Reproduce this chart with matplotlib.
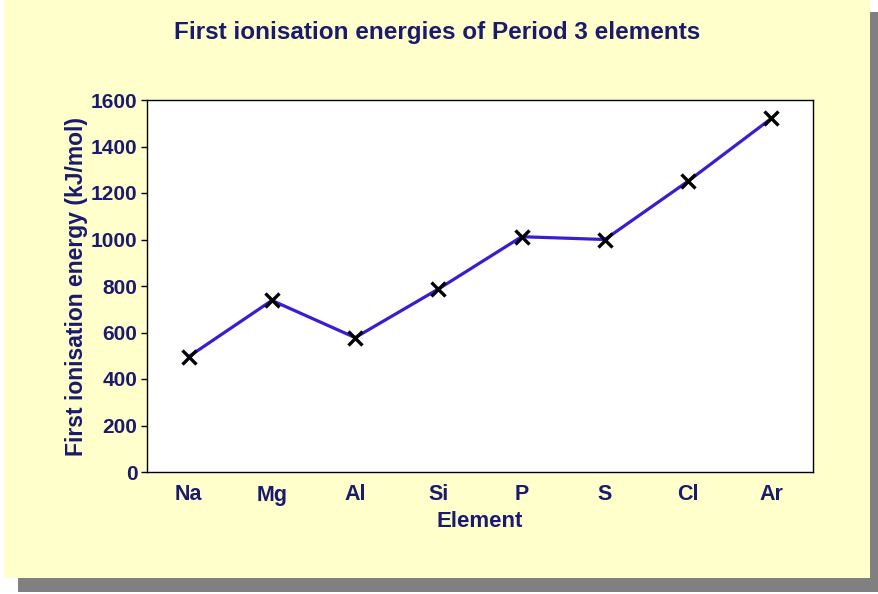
import numpy as np
import matplotlib.pyplot as plt
from matplotlib.patches import Rectangle

# Dados: primeira energia de ionização dos elementos do período 3
elementos = ['Na', 'Mg', 'Al', 'Si', 'P', 'S', 'Cl', 'Ar']
energias = [496, 738, 578, 787, 1012, 1000, 1251, 1521]
ticks_y = [0, 200, 400, 600, 800, 1000, 1200, 1400, 1600]

azul_texto = '#1a1a6e'
amarelo = '#ffffcc'

plt.rcParams['font.family'] = ['Liberation Sans', 'DejaVu Sans']
plt.rcParams['font.weight'] = 'bold'

fig = plt.figure(figsize=(8.79, 5.94), dpi=100)
fig.patch.set_facecolor('white')

# painel amarelo com sombra
W, H = 879, 594
fig.patches.append(Rectangle((18 / W, 2 / H), 861 / W, 580 / H, transform=fig.transFigure,
                             facecolor='#808080', edgecolor='none', zorder=-2))
fig.patches.append(Rectangle((4 / W, 16 / H), 866 / W, 578 / H, transform=fig.transFigure,
                             facecolor=amarelo, edgecolor='none', zorder=-1))

ax = fig.add_axes([147 / W, 1 - 472 / H, 666 / W, 372 / H])
ax.set_zorder(2)
ax.set_facecolor('white')
x = np.arange(len(elementos))
ax.plot(x, energias, color='#3a1dd0', linewidth=2.3, zorder=2)
ax.plot(x, energias, linestyle='none', marker='x', color='black', markersize=10,
        markeredgewidth=2.4, zorder=3)

ax.set_xlim(-0.5, len(elementos) - 0.5)
ax.set_ylim(0, 1600)
ax.set_xticks(x)
ax.set_xticklabels(elementos)
ax.set_yticks(ticks_y)
ax.tick_params(axis='x', length=0, pad=9, labelsize=15.5, labelcolor=azul_texto)
ax.tick_params(axis='y', length=4, width=1, direction='out', pad=3, labelsize=15,
               labelcolor=azul_texto)
for s in ax.spines.values():
    s.set_color('black')
    s.set_linewidth(1)

ax.set_xlabel('Element', fontsize=16, fontweight='bold', color=azul_texto, labelpad=4)
ax.set_ylabel('First ionisation energy (kJ/mol)', fontsize=16.5, fontweight='bold',
              color=azul_texto, labelpad=2)

fig.text(437 / W, 1 - 32 / H, 'First ionisation energies of Period 3 elements',
         ha='center', va='center', fontsize=17.5, fontweight='bold', color=azul_texto)

fig.savefig('out.png', dpi=100)
